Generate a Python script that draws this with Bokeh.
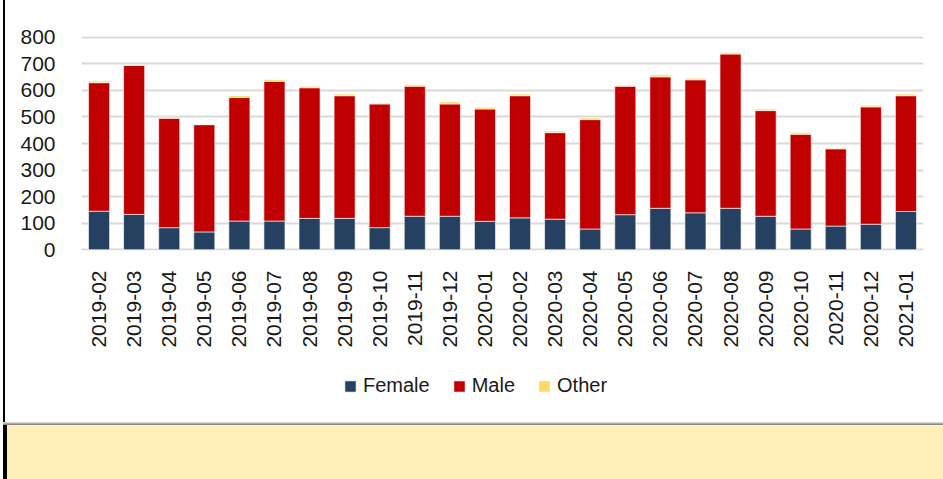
import math
from bokeh.plotting import figure
from bokeh.models import ColumnDataSource, FactorRange, Range1d, Legend, LegendItem, Div, SingleIntervalTicker
from bokeh.core.properties import value
from bokeh.layouts import column, row
from bokeh.embed import file_html
from bokeh.resources import INLINE

months = ["2019-02", "2019-03", "2019-04", "2019-05", "2019-06", "2019-07", "2019-08",
          "2019-09", "2019-10", "2019-11", "2019-12", "2020-01", "2020-02", "2020-03",
          "2020-04", "2020-05", "2020-06", "2020-07", "2020-08", "2020-09", "2020-10",
          "2020-11", "2020-12", "2021-01"]
female = [145, 133, 83, 67, 108, 108, 118, 118, 83, 126, 126, 107, 120, 115,
          78, 132, 156, 139, 156, 126, 78, 89, 96, 144]
male = [484, 561, 412, 404, 465, 526, 492, 462, 466, 490, 423, 423, 460, 326,
        412, 484, 495, 501, 581, 398, 357, 291, 442, 436]
other = [6, 3, 5, 1, 7, 6, 6, 6, 3, 6, 8, 7, 6, 6,
         6, 3, 8, 6, 6, 6, 6, 3, 6, 6]

series_cols = ["female", "male", "other"]
series_labels = ["Female", "Male", "Other"]
colors = ["#254061", "#C00000", "#FFD966"]

src = ColumnDataSource(dict(month=months, female=female, male=male, other=other))

FONT = "Liberation Sans"

# main chart
p = figure(x_range=FactorRange(*months), y_range=Range1d(-3, 803),
           width=938, height=360, output_backend="svg", toolbar_location=None,
           min_border_left=76, min_border_right=20, min_border_top=36,
           min_border_bottom=110)

rs = p.vbar_stack(series_cols, x="month", width=0.6, color=colors, source=src,
                  line_color="white", line_width=0.6)

p.outline_line_color = None
p.xgrid.grid_line_color = None
p.ygrid.grid_line_color = "#D9D9D9"
p.ygrid.grid_line_width = 2
p.yaxis.ticker = SingleIntervalTicker(interval=100)
p.axis.axis_line_color = None
p.axis.major_tick_line_color = None
p.axis.minor_tick_line_color = None
p.axis.major_label_text_font = FONT
p.axis.major_label_text_font_size = "21px"
p.axis.major_label_text_color = "#1a1a1a"
p.yaxis.major_label_standoff = 20
p.xaxis.major_label_standoff = 14
p.xaxis.major_label_orientation = math.pi / 2

# legend strip: hidden copies of the stacked series, used only for legend swatches
lf = figure(width=938, height=62, output_backend="svg", toolbar_location=None,
            x_range=p.x_range, y_range=Range1d(0, 800),
            min_border_left=0, min_border_right=0, min_border_top=0, min_border_bottom=0)
lf.axis.visible = False
lf.grid.visible = False
lf.outline_line_color = None
lrs = lf.vbar_stack(series_cols, x="month", width=0.6, color=colors, source=src,
                    line_color="white", line_width=0.6)
for r in lrs:
    r.visible = False
legend = Legend(items=[LegendItem(label=value(s), renderers=[r]) for s, r in zip(series_labels, lrs)],
                orientation="horizontal", location=(262, 25),
                glyph_width=14, glyph_height=14, label_standoff=6, spacing=22,
                padding=0, margin=0, border_line_color=None, background_fill_alpha=0,
                inactive_fill_alpha=0,
                label_text_font=FONT, label_text_font_size="20px",
                label_text_color="#1a1a1a")
lf.add_layout(legend)

left_bar = Div(width=2, height=422, margin=(0, 0, 0, 3),
               styles={"background-color": "black"})
gray_line = Div(width=940, height=3, margin=(0, 0, 0, 3),
                styles={"background": "linear-gradient(#e6e6e6, #7a7a7a)"})
yellow = Div(width=940, height=54, margin=(0, 0, 0, 3),
             styles={"background-color": "#FFF0B9", "border-left": "4px solid black",
                     "box-sizing": "border-box"})

layout = column(row(left_bar, column(p, lf, spacing=0), spacing=0),
                gray_line, yellow, spacing=0)

open("out.html", "w").write(file_html(layout, INLINE))
